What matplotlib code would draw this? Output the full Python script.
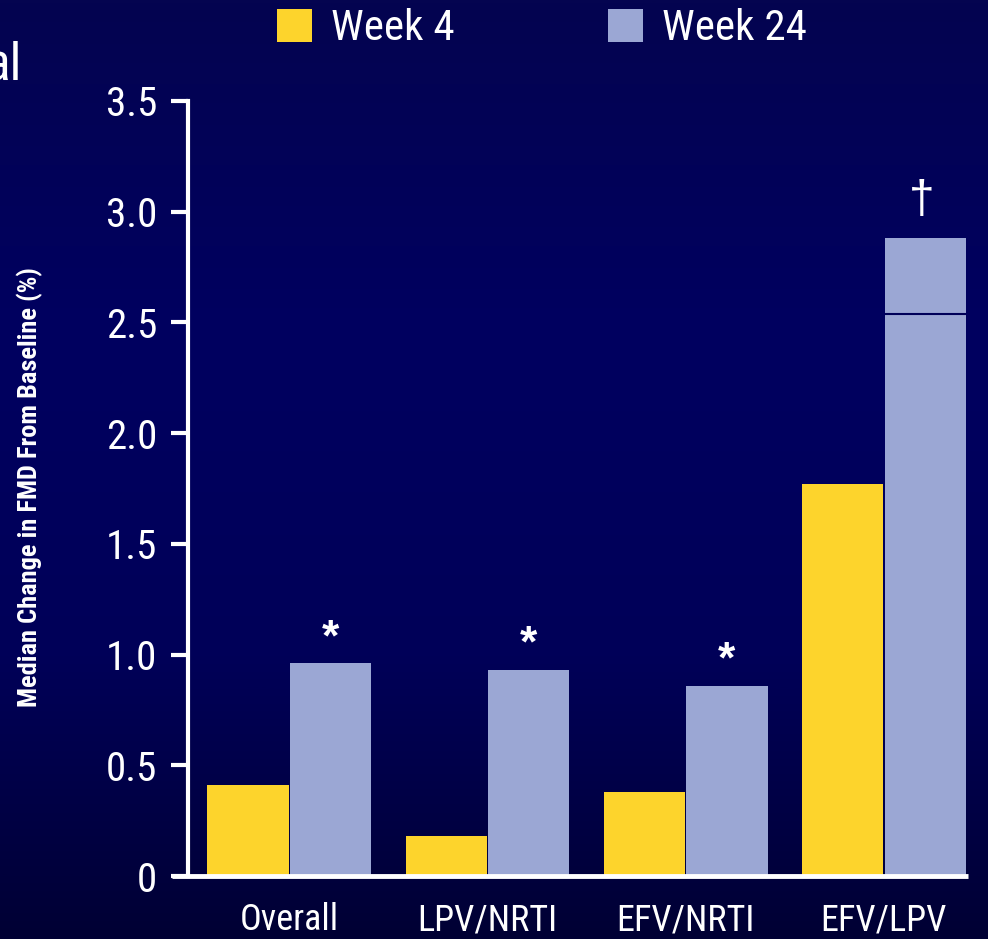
import numpy as np
import matplotlib
matplotlib.use("Agg")
import matplotlib.pyplot as plt
from matplotlib.colors import LinearSegmentedColormap
from matplotlib.lines import Line2D
from matplotlib.patches import Patch

# Data
categories = ["Overall", "LPV/NRTI", "EFV/NRTI", "EFV/LPV"]
week4 = [0.41, 0.18, 0.38, 1.77]
week24 = [0.96, 0.93, 0.86, 2.88]
week24_inner_line = [None, None, None, 2.54]
markers = ["*", "*", "*", "\u2020"]
series_names = ["Week 4", "Week 24"]
yticks = [0, 0.5, 1.0, 1.5, 2.0, 2.5, 3.0, 3.5]
ytick_labels = ["0", "0.5", "1.0", "1.5", "2.0", "2.5", "3.0", "3.5"]
ylabel = "Median Change in FMD From Baseline (%)"

YELLOW = "#FDD42C"
LAVENDER = "#9BA7D4"
NAVY = "#000058"
FONT = ["Roboto Condensed", "Archivo Narrow", "DejaVu Sans"]

fig = plt.figure(figsize=(9.88, 9.39), dpi=100)

# Background gradient
bg = fig.add_axes([0, 0, 1, 1], zorder=-10)
cmap = LinearSegmentedColormap.from_list(
    "bg",
    [(0.0, (4/255, 4/255, 80/255)),
     (0.35, (0, 0, 96/255)),
     (0.7, (0, 0, 88/255)),
     (1.0, (0, 0, 52/255))])
grad = np.linspace(0, 1, 512).reshape(-1, 1)
bg.imshow(grad, aspect="auto", cmap=cmap, extent=[0, 1, 0, 1], origin="upper")
bg.set_axis_off()

ax = fig.add_axes([188/988, 63/939, 780/988, 775/939])
ax.patch.set_alpha(0)

x = np.arange(len(categories))
w = 0.41
off = 0.208
ax.bar(x - off, week4, width=w, color=YELLOW, zorder=2)
ax.bar(x + off, week24, width=w, color=LAVENDER, zorder=2)

for i, v in enumerate(week24_inner_line):
    if v is not None:
        ax.hlines(v, x[i] + off - w/2, x[i] + off + w/2, color=NAVY, lw=1.5, zorder=3)

for i, m in enumerate(markers):
    if m == "*":
        ax.annotate(m, (x[i] + off, week24[i]), xytext=(0, 3), textcoords="offset points",
                    ha="center", va="bottom", color="white", fontsize=32,
                    fontweight="bold", family=["Liberation Sans", "DejaVu Sans"])
    else:
        ax.annotate(m, (x[i] + off - 0.02, week24[i]), xytext=(0, 11), textcoords="offset points",
                    ha="center", va="bottom", color="white", fontsize=33,
                    family=["Liberation Sans", "DejaVu Sans"])

ax.set_xlim(-0.51, 3.424)
ax.set_ylim(0, 3.5)
ax.set_yticks(yticks)
ax.set_yticklabels(ytick_labels, family=FONT, fontsize=29.5, color="white")
ax.set_xticks(x)
ax.set_xticklabels(categories, family=FONT, fontsize=26, color="white")
ax.tick_params(axis="y", length=12, width=3, color="white", direction="out", pad=10)
ax.tick_params(axis="x", length=0, pad=19)

for s in ["top", "right", "bottom"]:
    ax.spines[s].set_visible(False)
ax.spines["left"].set_color("white")
ax.spines["left"].set_linewidth(3)

# Baseline extends past the left axis
ax.add_line(Line2D([-0.02, 1.0], [0, 0], transform=ax.transAxes, color="white",
                   lw=3.5, clip_on=False, zorder=4, solid_capstyle="butt"))

fig.text(30/988, 1 - 487/939, ylabel, rotation=90, ha="center", va="center",
         color="white", fontsize=19, fontweight="bold", family=FONT)

# Title fragment at the left edge
fig.text(21/988, 1 - 79/939, "al", ha="right", va="baseline", color="white",
         fontsize=37, family=FONT)

handles = [Patch(facecolor=YELLOW, edgecolor="none"), Patch(facecolor=LAVENDER, edgecolor="none")]
leg = fig.legend(handles, series_names, loc="center left", bbox_to_anchor=(277/988, 1 - 29/939),
                 ncol=2, frameon=False, prop={"family": FONT, "size": 31},
                 handlelength=0.81, handleheight=0.81, handletextpad=0.44,
                 columnspacing=3.57, borderpad=0, borderaxespad=0)
for t in leg.get_texts():
    t.set_color("white")

fig.savefig("out.png", dpi=100, facecolor=NAVY)
